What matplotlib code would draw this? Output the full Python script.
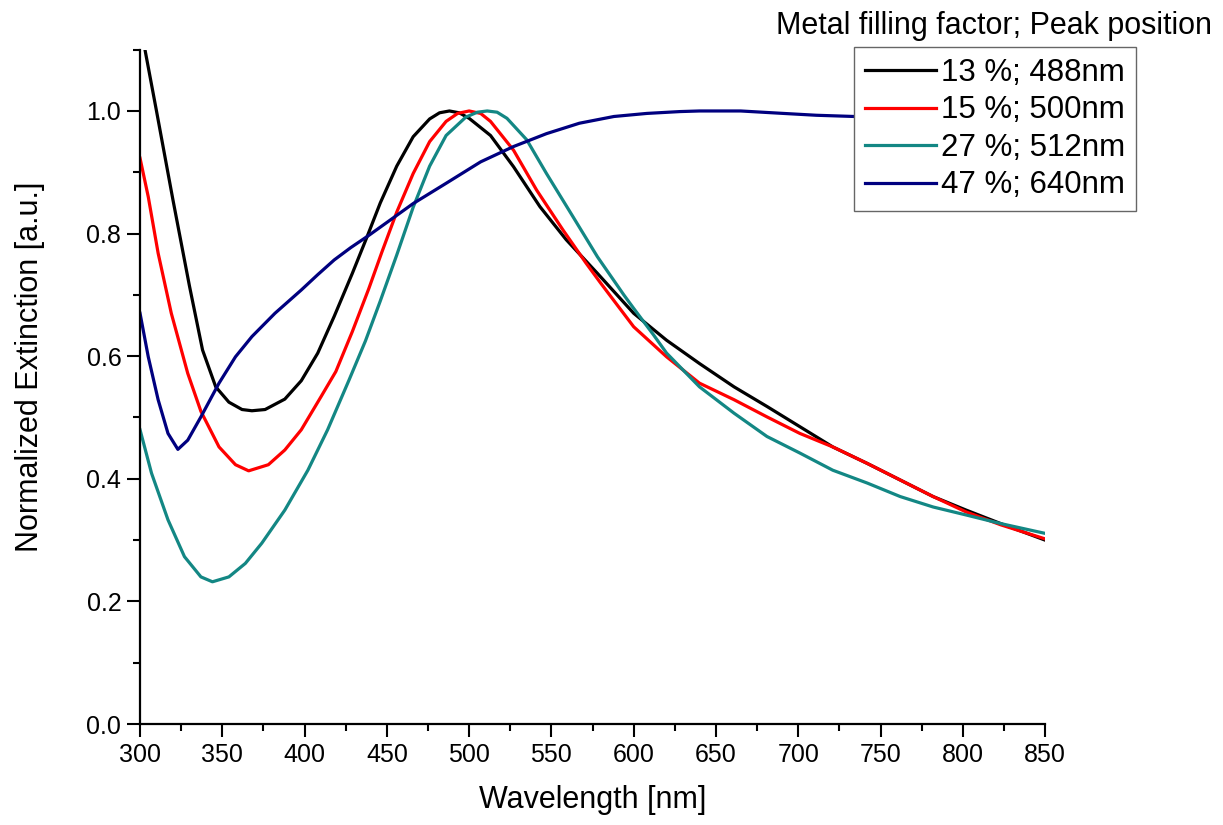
import numpy as np
import matplotlib.pyplot as plt
from matplotlib.ticker import MultipleLocator

plt.rcParams['font.family'] = ['Liberation Sans', 'DejaVu Sans']

# 13 %; 488nm
wl_13 = [300, 303, 310, 320, 330, 338, 346, 354, 362, 368, 376, 388, 398, 408, 418, 429,
         438, 446, 456, 466, 476, 482, 488, 494, 500, 513, 527, 543, 559, 578, 600, 620,
         640, 661, 681, 701, 721, 742, 762, 782, 802, 823, 850]
ext_13 = [1.14, 1.10, 1.00, 0.855, 0.715, 0.61, 0.55, 0.525, 0.513, 0.511, 0.513, 0.53, 0.56,
          0.605, 0.665, 0.735, 0.795, 0.850, 0.910, 0.958, 0.987, 0.997, 1.0, 0.997, 0.988,
          0.960, 0.909, 0.844, 0.790, 0.735, 0.670, 0.626, 0.588, 0.550, 0.518, 0.485,
          0.452, 0.425, 0.398, 0.371, 0.349, 0.327, 0.300]

# 15 %; 500nm
wl_15 = [300, 305, 311, 319, 329, 337, 348, 358, 366, 378, 388, 398, 410, 419, 429, 439,
         447, 456, 466, 476, 486, 493, 500, 507, 513, 527, 541, 557, 571, 580, 600, 620,
         640, 661, 681, 701, 721, 742, 762, 782, 802, 823, 850]
ext_15 = [0.923, 0.860, 0.768, 0.670, 0.572, 0.51, 0.452, 0.423, 0.413, 0.423, 0.447, 0.480,
          0.534, 0.575, 0.64, 0.71, 0.77, 0.835, 0.898, 0.950, 0.983, 0.996, 1.0, 0.996,
          0.983, 0.936, 0.871, 0.806, 0.752, 0.719, 0.648, 0.599, 0.556, 0.529, 0.501,
          0.474, 0.452, 0.425, 0.398, 0.371, 0.346, 0.325, 0.302]

# 27 %; 512nm
wl_27 = [300, 307, 317, 327, 337, 344, 354, 364, 374, 388, 402, 414, 427, 437, 446, 456,
         466, 476, 486, 498, 505, 511, 517, 523, 535, 547, 563, 578, 594, 600, 612, 620,
         640, 661, 681, 701, 721, 742, 762, 782, 802, 823, 850]
ext_27 = [0.480, 0.409, 0.333, 0.273, 0.240, 0.232, 0.240, 0.262, 0.295, 0.349, 0.414, 0.480,
          0.561, 0.625, 0.69, 0.765, 0.843, 0.910, 0.960, 0.990, 0.998, 1.0, 0.998, 0.988,
          0.953, 0.898, 0.828, 0.762, 0.70, 0.678, 0.635, 0.605, 0.550, 0.507, 0.469,
          0.442, 0.414, 0.393, 0.371, 0.354, 0.341, 0.327, 0.311]

# 47 %; 640nm
wl_47 = [300, 305, 311, 317, 323, 329, 337, 348, 358, 368, 382, 398, 408, 418, 428, 439,
         452, 466, 486, 507, 527, 547, 567, 588, 608, 628, 640, 665, 691, 711, 734, 760,
         800, 850]
ext_47 = [0.670, 0.599, 0.529, 0.474, 0.448, 0.463, 0.501, 0.556, 0.599, 0.632, 0.670, 0.708,
          0.733, 0.757, 0.777, 0.797, 0.822, 0.849, 0.882, 0.917, 0.942, 0.963, 0.980, 0.991,
          0.996, 0.999, 1.0, 1.0, 0.996, 0.993, 0.991, 0.988, 0.983, 0.978]

labels = ['13 %; 488nm', '15 %; 500nm', '27 %; 512nm', '47 %; 640nm']
colors = ['#000000', '#ff0000', '#138784', '#00007f']

fig = plt.figure(figsize=(12.23, 8.25), dpi=100)
ax = fig.add_axes([0.1145, 0.1224, 0.74, 0.8174])

for wl, ext, lab, c in zip([wl_13, wl_15, wl_27, wl_47], [ext_13, ext_15, ext_27, ext_47],
                           labels, colors):
    ax.plot(wl, ext, color=c, lw=2.3, label=lab, solid_joinstyle='round')

ax.set_xlim(300, 850)
ax.set_ylim(0, 1.1)
ax.xaxis.set_major_locator(MultipleLocator(50))
ax.xaxis.set_minor_locator(MultipleLocator(25))
ax.yaxis.set_major_locator(MultipleLocator(0.2))
ax.yaxis.set_minor_locator(MultipleLocator(0.1))
ax.yaxis.set_major_formatter(plt.FormatStrFormatter('%.1f'))

for s in ['top', 'right']:
    ax.spines[s].set_visible(False)
for s in ['left', 'bottom']:
    ax.spines[s].set_linewidth(1.6)

ax.tick_params(which='major', direction='out', length=9.5, width=1.5, labelsize=18, pad=4)
ax.tick_params(which='minor', direction='out', length=4.8, width=1.5)

ax.set_xlabel('Wavelength [nm]', fontsize=22, va='center')
ax.set_ylabel('Normalized Extinction [a.u.]', fontsize=22, va='center')
ax.xaxis.set_label_coords(0.5, -0.113)
ax.yaxis.set_label_coords(-0.1215, 0.529)

leg = ax.legend(loc='upper left', bbox_to_anchor=(0.698, 0.943), bbox_transform=fig.transFigure,
                borderaxespad=0, fontsize=22.5, handlelength=2.3, handletextpad=0.15,
                labelspacing=0.24, frameon=True, fancybox=False, framealpha=1,
                borderpad=0.35)
leg.get_frame().set_edgecolor('#666666')
leg.get_frame().set_linewidth(1.0)

fig.text(0.991, 0.969, 'Metal filling factor; Peak position', ha='right', va='center', fontsize=22)

fig.savefig('out.png', dpi=100)
